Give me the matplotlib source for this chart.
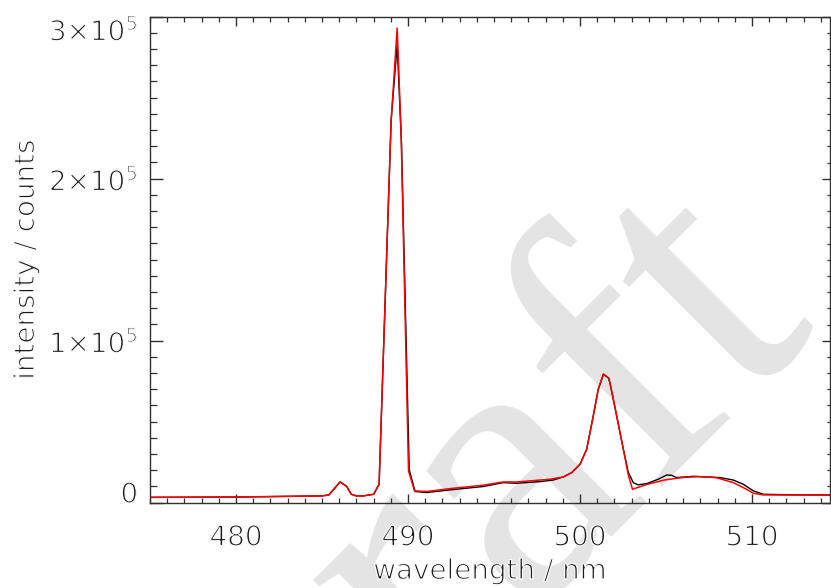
import matplotlib
matplotlib.use("Agg")
import matplotlib.pyplot as plt
import matplotlib.patheffects as pe
from matplotlib.ticker import FixedLocator, MultipleLocator

# Measured spectrum (black) and model spectrum (red)
wl_meas = [475.0, 480.0, 485.0, 485.4, 486.05, 486.44, 486.7, 487.0, 487.4, 488.0,
           488.32, 488.67, 489.02, 489.37, 489.62, 490.07, 490.41, 491.09, 492.44,
           494.38, 495.53, 496.32, 497.67, 498.45, 499.03, 499.52, 500.0, 500.39,
           500.77, 501.06, 501.36, 501.65, 501.74, 502.13, 502.52, 502.81, 503.10,
           503.38, 503.88, 504.55, 505.04, 505.33, 505.62, 506.59, 508.14, 508.91,
           509.49, 510.08, 510.66, 512.79, 514.5]
cnt_meas = [3300, 3500, 4200, 4800, 12800, 10000, 5200, 4200, 4200, 5200,
            11400, 124000, 236000, 283000, 222000, 20500, 6900, 6300, 7900,
            10000, 12400, 12000, 13000, 14000, 15900, 18600, 23700, 33000,
            53500, 70000, 79200, 77100, 74000, 53500, 33000, 18600, 12400,
            11000, 11800, 14500, 17100, 16900, 15500, 16300, 15500, 14000,
            11400, 7300, 5200, 4800, 4800]

wl_model = [475.0, 480.0, 485.0, 485.4, 486.05, 486.44, 486.7, 487.0, 487.4, 488.0,
            488.32, 488.67, 489.02, 489.37, 489.6, 490.03, 490.38, 491.09, 492.44,
            494.38, 495.53, 496.32, 498.26, 499.03, 499.52, 500.0, 500.39, 500.77,
            501.06, 501.36, 501.69, 502.13, 502.52, 502.81, 503.05, 503.92, 504.9,
            505.9, 506.9, 507.9, 508.91, 509.68, 510.08, 510.66, 514.5]
cnt_model = [3300, 3500, 4200, 4800, 12800, 10000, 5200, 4200, 4200, 5200,
             11400, 124000, 236000, 293000, 228000, 19600, 7300, 6900, 8700,
             10800, 12800, 12800, 14500, 15900, 18600, 23700, 33000, 53500,
             70000, 79500, 76700, 54000, 33000, 17000, 8300, 11400, 14000,
             15500, 16100, 15500, 12400, 8300, 5800, 4800, 4700]

x_ticks = [480, 490, 500, 510]
y_ticks = [0, 1e5, 2e5, 3e5]
y_tick_labels = ["0", "1×10$^5$", "2×10$^5$", "3×10$^5$"]

plt.rcParams.update({
    "font.family": ["DejaVu Sans"],
    "mathtext.fontset": "custom",
    "mathtext.rm": "DejaVu Sans",
    "mathtext.default": "rm",
})

# thin out the glyph strokes a little for a light, plotter-like look
thin = [pe.Normal(), pe.Stroke(linewidth=0.9, foreground="white")]

W, H = 831, 588
fig = plt.figure(figsize=(W / 100, H / 100), dpi=100)
x0, x1, ytop, ybot = 150, 830, 16.7, 502.7
ax = fig.add_axes([x0 / W, 1 - ybot / H, (x1 - x0) / W, (ybot - ytop) / H])
ax.patch.set_visible(False)

# watermark behind everything
fig.text(0.552, 0.072, "Draft", fontsize=282, family="Liberation Serif",
         rotation=45, color="#e4e4e4", ha="center", va="center", zorder=-1)

ax.plot(wl_meas, cnt_meas, color="black", lw=1.0)
ax.plot(wl_model, cnt_model, color="red", lw=1.1)

ax.set_xlim(475, 475 + (x1 - x0) / 17.2)
ax.set_ylim(0, 3e5)

ax.xaxis.set_major_locator(FixedLocator(x_ticks))
ax.xaxis.set_minor_locator(MultipleLocator(1))
ax.set_yticks(y_ticks)
ax.set_yticklabels(y_tick_labels)
ax.yaxis.set_minor_locator(MultipleLocator(1e4))

axis_col = "#303030"
text_col = "#1a1a1a"
for s in ax.spines.values():
    s.set_color(axis_col)
    s.set_linewidth(1.0)

ax.tick_params(axis="x", which="both", direction="in", top=True, bottom=True,
               colors=axis_col, labelcolor=text_col, labelsize=20, pad=15)
ax.tick_params(axis="x", which="major", length=6.8, width=1.0)
ax.tick_params(axis="x", which="minor", length=3.4, width=0.9)
ax.tick_params(axis="y", which="both", direction="in", left=True, right=False,
               colors=axis_col, labelcolor=text_col, labelsize=20, pad=8.5)
ax.tick_params(axis="y", which="major", length=9.4, width=1.0)
ax.tick_params(axis="y", which="minor", length=4.8, width=0.9)

yt = ax.yaxis.get_major_ticks()
yt[0].label1.set_verticalalignment("baseline")
yt[-1].label1.set_verticalalignment("top")

# shorter ticks on the right-hand axis
axr = ax.twinx()
axr.set_ylim(ax.get_ylim())
axr.set_yticks(y_ticks)
axr.yaxis.set_minor_locator(MultipleLocator(1e4))
axr.tick_params(axis="y", which="both", direction="in", right=True,
                labelright=False, colors=axis_col)
axr.tick_params(axis="y", which="major", length=5.5, width=1.0)
axr.tick_params(axis="y", which="minor", length=2.0, width=0.9)
axr.patch.set_visible(False)
for s in axr.spines.values():
    s.set_visible(False)

ax.set_xlabel("wavelength / nm", fontsize=20, color=text_col)
ax.set_ylabel("intensity / counts", fontsize=20, color=text_col)
ax.xaxis.set_label_coords(0.5, (ybot - 557) / (ybot - ytop))
ax.yaxis.set_label_coords((40 - x0) / (x1 - x0), 0.5)
ax.xaxis.label.set_verticalalignment("top")

for t in ax.get_xticklabels() + ax.get_yticklabels() + [ax.xaxis.label, ax.yaxis.label]:
    t.set_path_effects(thin)

fig.savefig("out.png", dpi=100, facecolor="white")
